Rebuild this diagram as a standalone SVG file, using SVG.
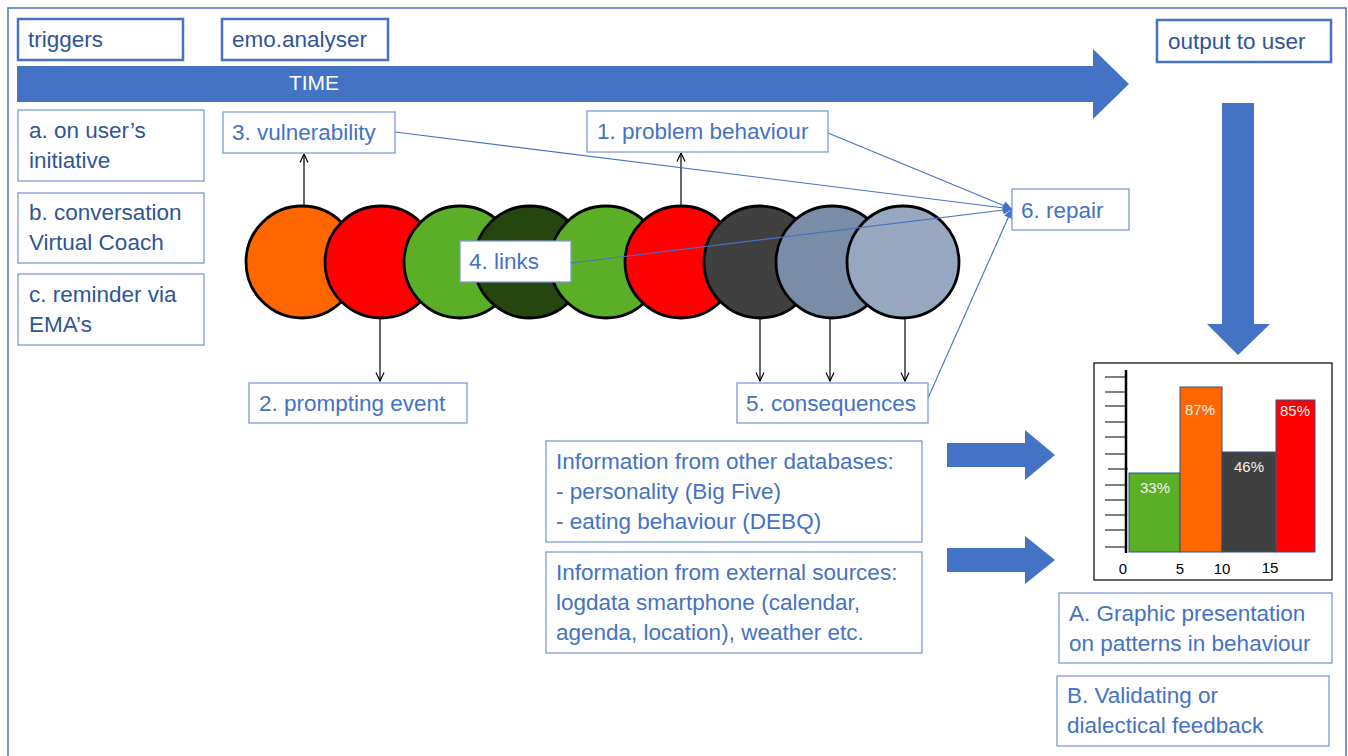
<svg xmlns="http://www.w3.org/2000/svg" width="1348" height="756" viewBox="0 0 1348 756">
<defs>
<style>
text{font-family:"Liberation Sans",Arial,sans-serif;font-size:22.5px;}
.dk{fill:#2F5597;}
.bl{fill:#4472C4;}
.hbox{fill:#fff;stroke:#4472C4;stroke-width:2.5;}
.lbox{fill:#fff;stroke:#7F9CD8;stroke-width:1.3;}
.circ{stroke:#000;stroke-width:2.8;}
.blk{stroke:#000;stroke-width:1.2;fill:none;marker-end:url(#open);}
.con{stroke:#4472C4;stroke-width:1.1;fill:none;marker-end:url(#fill);}
.big{fill:#4472C4;}
.bar{stroke:#2F528F;stroke-width:1;}
.pct{font-size:15px;fill:#F2F2F2;text-anchor:middle;}
.ax{font-size:15px;fill:#000;text-anchor:middle;}
</style>
<marker id="open" viewBox="0 0 10 10" refX="9.5" refY="5" markerWidth="10" markerHeight="10" markerUnits="userSpaceOnUse" orient="auto">
<path d="M1,1 L9.5,5 L1,9" fill="none" stroke="#000" stroke-width="1.2"/>
</marker>
<marker id="fill" viewBox="0 0 10 10" refX="10" refY="5" markerWidth="10" markerHeight="9" markerUnits="userSpaceOnUse" orient="auto">
<path d="M0,0 L10,5 L0,10 z" fill="#4472C4"/>
</marker>
</defs>
<rect x="0" y="0" width="1348" height="756" fill="#fff"/>
<rect x="8" y="8" width="1338" height="760" fill="none" stroke="#4472C4" stroke-width="1.5"/>

<g id="time-arrow">
<path class="big" d="M17,66 H1093 V49 L1129,84 L1093,119 V102 H17 Z"/>
<text x="314" y="90" fill="#fff" text-anchor="middle" style="font-size:21px">TIME</text>
</g>

<g id="output-arrow">
<path class="big" d="M1222,103 H1254 V324 H1270 L1238,355 L1207,324 H1222 Z"/>
</g>

<g id="triggers"><rect class="hbox" x="18" y="19" width="165" height="41"/><text class="dk" x="28" y="47">triggers</text></g>
<g id="emo-analyser"><rect class="hbox" x="222" y="19" width="166" height="41"/><text class="dk" x="232" y="47">emo.analyser</text></g>
<g id="output-to-user"><rect class="hbox" x="1157" y="20" width="174" height="42"/><text class="dk" x="1168" y="49">output to user</text></g>

<g id="trigger-a"><rect class="lbox" x="18" y="110" width="186" height="71"/><text class="dk" x="29" y="138">a. on user’s</text><text class="dk" x="29" y="168">initiative</text></g>
<g id="trigger-b"><rect class="lbox" x="18" y="193" width="186" height="70"/><text class="dk" x="29" y="220">b. conversation</text><text class="dk" x="29" y="250">Virtual Coach</text></g>
<g id="trigger-c"><rect class="lbox" x="18" y="274" width="186" height="71"/><text class="dk" x="29" y="302">c. reminder via</text><text class="dk" x="29" y="332">EMA’s</text></g>

<g id="circles">
<circle class="circ" cx="302" cy="262" r="56" fill="#FF6600"/>
<circle class="circ" cx="381" cy="262" r="56" fill="#FF0000"/>
<circle class="circ" cx="460" cy="262" r="56" fill="#5BAF26"/>
<circle class="circ" cx="530" cy="262" r="56" fill="#264610"/>
<circle class="circ" cx="606" cy="262" r="56" fill="#5BAF26"/>
<circle class="circ" cx="681" cy="262" r="56" fill="#FF0000"/>
<circle class="circ" cx="760" cy="262" r="56" fill="#404040"/>
<circle class="circ" cx="832" cy="262" r="56" fill="#7B8CA8"/>
<circle class="circ" cx="903" cy="262" r="56" fill="#97A7BF"/>
</g>

<g id="connectors">
<line class="blk" x1="304" y1="206" x2="304" y2="154"/>
<line class="blk" x1="380" y1="318" x2="380" y2="381"/>
<line class="blk" x1="681" y1="206" x2="681" y2="153"/>
<line class="blk" x1="760" y1="318" x2="760" y2="381"/>
<line class="blk" x1="830" y1="318" x2="830" y2="381"/>
<line class="blk" x1="905" y1="318" x2="905" y2="381"/>
<line class="con" x1="395" y1="132" x2="1012" y2="209"/>
<line class="con" x1="828" y1="133" x2="1012" y2="209"/>
<line class="con" x1="928" y1="398" x2="1012" y2="209"/>
</g>

<g id="vulnerability"><rect class="lbox" x="223" y="112" width="172" height="41"/><text class="bl" x="232" y="140">3. vulnerability</text></g>
<g id="problem-behaviour"><rect class="lbox" x="587" y="111" width="241" height="41"/><text class="bl" x="597" y="139">1. problem behaviour</text></g>
<g id="repair"><rect class="lbox" x="1012" y="189" width="117" height="41"/><text class="bl" x="1021" y="218">6. repair</text></g>
<g id="links"><rect class="lbox" x="460" y="241" width="111" height="41"/><text class="bl" x="469" y="269">4. links</text></g>
<line class="con" x1="571" y1="263" x2="1012" y2="209"/>
<g id="prompting-event"><rect class="lbox" x="249" y="383" width="218" height="40"/><text class="bl" x="259" y="411">2. prompting event</text></g>
<g id="consequences"><rect class="lbox" x="737" y="383" width="191" height="40"/><text class="bl" x="746" y="411">5. consequences</text></g>

<g id="info-databases"><rect class="lbox" x="546" y="441" width="376" height="101"/>
<text class="bl" x="556" y="469">Information from other databases:</text>
<text class="bl" x="556" y="499">- personality (Big Five)</text>
<text class="bl" x="556" y="529">- eating behaviour (DEBQ)</text></g>
<g id="info-external"><rect class="lbox" x="546" y="552" width="376" height="101"/>
<text class="bl" x="556" y="580">Information from external sources:</text>
<text class="bl" x="556" y="610">logdata smartphone (calendar,</text>
<text class="bl" x="556" y="640">agenda, location), weather etc.</text></g>

<g id="arrow-db"><path class="big" d="M947,443 H1025 V430 L1055,455 L1025,480 V467 H947 Z"/></g>
<g id="arrow-ext"><path class="big" d="M947,548 H1025 V536 L1055,560 L1025,584 V572 H947 Z"/></g>

<g id="chart">
<rect x="1094" y="363" width="238" height="217" fill="#fff" stroke="#000" stroke-width="1.2"/>
<rect class="bar" x="1129" y="473" width="51" height="79" fill="#5BAF26"/>
<rect class="bar" x="1180" y="387" width="42" height="165" fill="#FF6600"/>
<rect class="bar" x="1222" y="452" width="54" height="100" fill="#404040"/>
<rect class="bar" x="1276" y="400" width="39" height="152" fill="#FF0000"/>
<line x1="1126" y1="370" x2="1126" y2="553" stroke="#000" stroke-width="2.5"/>
<path d="M1105,377H1126M1105,392H1126M1105,406H1126M1105,422H1126M1105,437H1126M1105,454H1126M1108,469H1128M1105,485H1126M1105,500H1126M1105,515H1126M1105,530H1126M1105,547H1126" stroke="#000" stroke-width="1.2"/>
<text class="pct" x="1155" y="493">33%</text>
<text class="pct" x="1200" y="415">87%</text>
<text class="pct" x="1249" y="472">46%</text>
<text class="pct" x="1295" y="416">85%</text>
<text class="ax" x="1123" y="574">0</text>
<text class="ax" x="1180" y="574">5</text>
<text class="ax" x="1222" y="574">10</text>
<text class="ax" x="1270" y="573">15</text>
</g>

<g id="graphic-presentation"><rect class="lbox" x="1059" y="593" width="273" height="70"/>
<text class="bl" x="1069" y="621">A. Graphic presentation</text>
<text class="bl" x="1069" y="651">on patterns in behaviour</text></g>
<g id="validating-feedback"><rect class="lbox" x="1057" y="676" width="272" height="70"/>
<text class="bl" x="1067" y="703">B. Validating or</text>
<text class="bl" x="1067" y="733">dialectical feedback</text></g>
</svg>
